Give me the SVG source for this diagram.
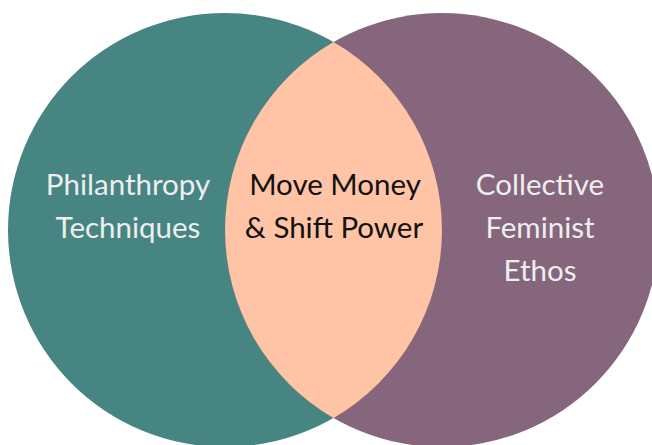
<svg xmlns="http://www.w3.org/2000/svg" width="652" height="445" viewBox="0 0 652 445">
  <style>
    .label { font-family: "Lato", "Open Sans", "Liberation Sans", sans-serif; font-size: 29.5px; text-anchor: middle; }
    .light { fill: #eeeeee; }
    .dark { fill: #111111; }
  </style>
  <rect width="652" height="445" fill="#ffffff"/>
  <g id="philanthropy">
    <circle cx="225" cy="230" r="217" fill="#468582"/>
    <text class="label light" x="128" y="195">Philanthropy</text>
    <text class="label light" x="128" y="238">Techniques</text>
  </g>
  <g id="feminist">
    <circle cx="442" cy="230" r="217" fill="#85667d"/>
    <text class="label light" x="540" y="195">Collective</text>
    <text class="label light" x="540" y="238">Feminist</text>
    <text class="label light" x="540" y="281">Ethos</text>
  </g>
  <g id="overlap">
    <path d="M333.5 42.1 A217 217 0 0 1 333.5 417.9 A217 217 0 0 1 333.5 42.1 Z" fill="#fec4a5"/>
    <text class="label dark" x="335" y="195">Move Money</text>
    <text class="label dark" x="334" y="238">&amp; Shift Power</text>
  </g>
</svg>
